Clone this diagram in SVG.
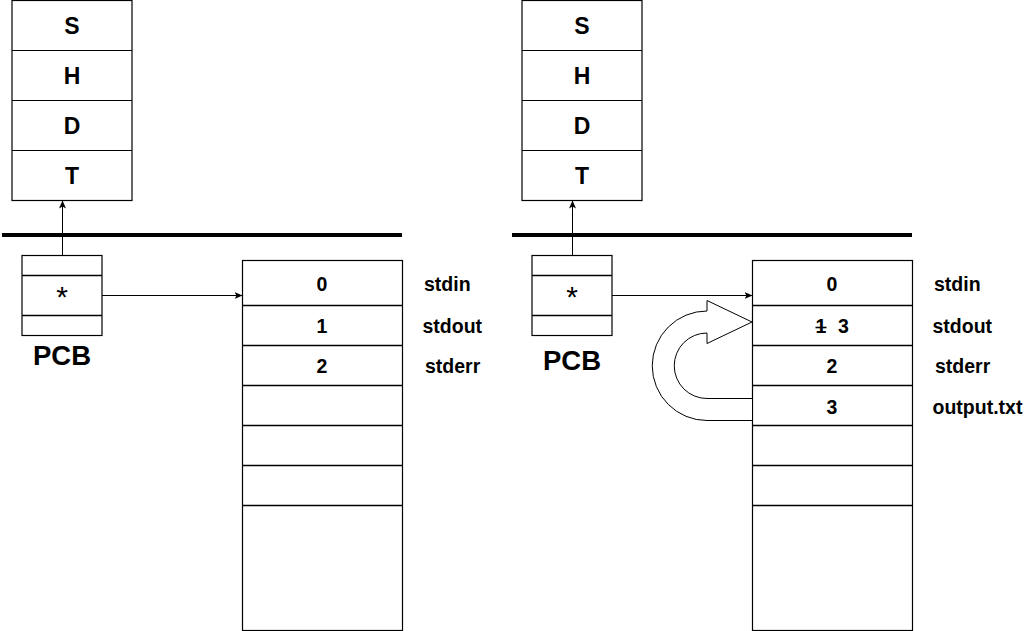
<svg xmlns="http://www.w3.org/2000/svg" width="1032" height="631" viewBox="0 0 1032 631">
<defs>
<marker id="ah" markerUnits="userSpaceOnUse" markerWidth="8" markerHeight="8" viewBox="0 0 8 8" refX="7.5" refY="4" orient="auto">
<path d="M0,0.5 L8,4 L0,7.5 L2,4 Z" fill="#000"/>
</marker>
<style>
.box{fill:#fff;stroke:#000;stroke-width:1.2}
.sep{stroke:#000;stroke-width:1.6;fill:none}
.t{font-family:"Liberation Sans",Arial,sans-serif;font-weight:bold;fill:#000}
.big{font-size:23px;text-anchor:middle}
.mid{font-size:19.5px}
.c{text-anchor:middle}
.pcb{font-size:27.5px;text-anchor:middle}
.star{font-family:"Liberation Sans",Arial,sans-serif;font-size:30px;text-anchor:middle;fill:#000}
.bar{stroke:#000;stroke-width:4}
.conn{stroke:#000;stroke-width:1;fill:none}
</style>
</defs>
<rect width="1032" height="631" fill="#fff"/>

<!-- LEFT -->
<g id="stack-left">
<rect class="box" x="12" y="0.5" width="120" height="200"/>
<line class="conn" x1="12" y1="50.5" x2="132" y2="50.5"/>
<line class="conn" x1="12" y1="100.5" x2="132" y2="100.5"/>
<line class="conn" x1="12" y1="150.5" x2="132" y2="150.5"/>
<text class="t big" x="72" y="33.5">S</text>
<text class="t big" x="72" y="83.5">H</text>
<text class="t big" x="72" y="133.5">D</text>
<text class="t big" x="72" y="183.5">T</text>
</g>
<g id="bar-left"><line class="bar" x1="2" y1="235" x2="402" y2="235"/></g>
<g id="pcb-left">
<rect class="box" x="22" y="255.5" width="80" height="80"/>
<line class="sep" x1="22" y1="275.5" x2="102" y2="275.5"/>
<line class="sep" x1="22" y1="315.5" x2="102" y2="315.5"/>
<text class="star" x="62" y="307">*</text>
<text class="t pcb" x="62" y="365">PCB</text>
</g>
<g id="table-left">
<rect class="box" x="242.5" y="260.5" width="160" height="370"/>
<line class="sep" x1="242" y1="305.5" x2="402" y2="305.5"/>
<line class="sep" x1="242" y1="345.5" x2="402" y2="345.5"/>
<line class="sep" x1="242" y1="385.5" x2="402" y2="385.5"/>
<line class="sep" x1="242" y1="425.5" x2="402" y2="425.5"/>
<line class="sep" x1="242" y1="465.5" x2="402" y2="465.5"/>
<line class="sep" x1="242" y1="505.5" x2="402" y2="505.5"/>
<text class="t mid c" x="322" y="291">0</text>
<text class="t mid c" x="322" y="333">1</text>
<text class="t mid c" x="322" y="373">2</text>
<text class="t mid" x="424" y="291">stdin</text>
<text class="t mid" x="422.5" y="333">stdout</text>
<text class="t mid" x="425" y="373">stderr</text>
</g>

<!-- RIGHT -->
<g id="stack-right">
<rect class="box" x="522" y="0.5" width="120" height="200"/>
<line class="conn" x1="522" y1="50.5" x2="642" y2="50.5"/>
<line class="conn" x1="522" y1="100.5" x2="642" y2="100.5"/>
<line class="conn" x1="522" y1="150.5" x2="642" y2="150.5"/>
<text class="t big" x="582" y="33.5">S</text>
<text class="t big" x="582" y="83.5">H</text>
<text class="t big" x="582" y="133.5">D</text>
<text class="t big" x="582" y="183.5">T</text>
</g>
<g id="bar-right"><line class="bar" x1="512" y1="235" x2="912" y2="235"/></g>
<g id="pcb-right">
<rect class="box" x="532" y="255.5" width="80" height="80"/>
<line class="sep" x1="532" y1="275.5" x2="612" y2="275.5"/>
<line class="sep" x1="532" y1="315.5" x2="612" y2="315.5"/>
<text class="star" x="572" y="307">*</text>
<text class="t pcb" x="572" y="370">PCB</text>
</g>
<g id="table-right">
<rect class="box" x="752.5" y="260.5" width="160" height="370"/>
<line class="sep" x1="752" y1="305.5" x2="912" y2="305.5"/>
<line class="sep" x1="752" y1="345.5" x2="912" y2="345.5"/>
<line class="sep" x1="752" y1="385.5" x2="912" y2="385.5"/>
<line class="sep" x1="752" y1="425.5" x2="912" y2="425.5"/>
<line class="sep" x1="752" y1="465.5" x2="912" y2="465.5"/>
<line class="sep" x1="752" y1="505.5" x2="912" y2="505.5"/>
<text class="t mid c" x="832" y="291">0</text>
<text class="t mid c" x="821" y="333">1</text>
<line x1="815.5" y1="327.5" x2="826.5" y2="327.5" stroke="#000" stroke-width="1.6"/>
<text class="t mid c" x="843.5" y="333">3</text>
<text class="t mid c" x="832" y="373">2</text>
<text class="t mid c" x="832" y="414">3</text>
<text class="t mid" x="934" y="291">stdin</text>
<text class="t mid" x="932.5" y="333">stdout</text>
<text class="t mid" x="935" y="373">stderr</text>
<text class="t mid" x="932.5" y="414">output.txt</text>
</g>

<g id="connectors">
<line class="conn" x1="62.5" y1="255" x2="62.5" y2="201" marker-end="url(#ah)"/>
<line class="conn" x1="102" y1="295.5" x2="242" y2="295.5" marker-end="url(#ah)"/>
<line class="conn" x1="572.5" y1="255" x2="572.5" y2="201" marker-end="url(#ah)"/>
<line class="conn" x1="612" y1="295.5" x2="752" y2="295.5" marker-end="url(#ah)"/>
<path d="M752,420.5 L707,420.5 A54.75,54.75 0 0 1 707,311 L707,300.5 L752,322 L707,343.5 L707,333 A32.75,32.75 0 0 0 707,398.5 L752,398.5" fill="#fff" stroke="#000" stroke-width="1"/>
</g>
</svg>
